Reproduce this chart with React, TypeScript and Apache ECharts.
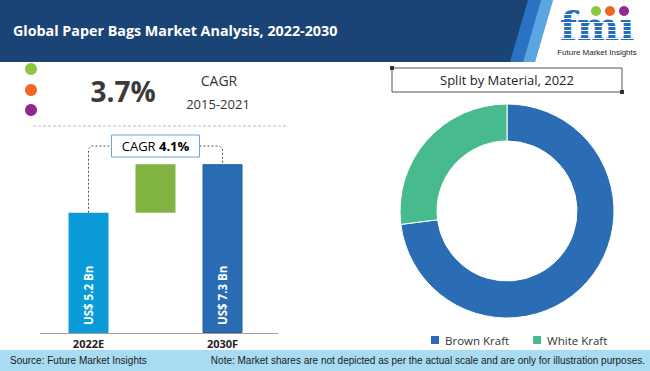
import React, { useEffect, useRef } from "react";
import * as echarts from "echarts";

const title = "Global Paper Bags Market Analysis, 2022-2030";
const barCategories = ["2022E", "", "2030F"];
const barValues = [5.2, 2.1, 7.3];
const barBase = ["-", 5.2, "-"];
const barLabels = ["US$ 5.2 Bn", "", "US$ 7.3 Bn"];
const cagrHistoric = "3.7%";
const cagrHistoricPeriod = "2015-2021";
const cagrForecast = "4.1%";
const pieTitle = "Split by Material, 2022";
const pieNames = ["Brown Kraft", "White Kraft"];
const pieValues = [73, 27];
const sourceText = "Source: Future Market Insights";
const noteText = "Note: Market shares are not depicted as per the actual scale and are only for illustration purposes.";

const FONT = "'Open Sans', 'Noto Sans', sans-serif";
const NARROW = "'Liberation Sans Narrow', 'Liberation Sans', sans-serif";

export default function App() {
  const ref = useRef<HTMLDivElement>(null);
  useEffect(() => {
    document.body.style.margin = "0";
    if (!ref.current) return;
    const chart = echarts.init(ref.current, undefined, { renderer: "svg" });

    const stripes: any[] = [];
    for (let i = 0; i < 8; i++) {
      stripes.push({
        id: "stripe" + i,
        type: "rect",
        shape: { x: 556, y: 14 + i * 4, width: 84, height: 1 },
        style: { fill: "#ffffff" },
        z: 12,
      });
    }

    const baseGraphics: any[] = [
      { id: "hdr", type: "rect", shape: { x: 0, y: 0, width: 650, height: 62 }, style: { fill: "#1b4476" }, z: 1 },
      { id: "hs1", type: "polygon", shape: { points: [[528, 0], [541, 0], [523, 62], [510, 62]] }, style: { fill: "#2a73c2" }, z: 2 },
      { id: "hs2", type: "polygon", shape: { points: [[541, 0], [553, 0], [535, 62], [523, 62]] }, style: { fill: "#5aa6e2" }, z: 2 },
      { id: "hw", type: "polygon", shape: { points: [[553, 0], [650, 0], [650, 62], [535, 62]] }, style: { fill: "#ffffff" }, z: 3 },
      { id: "ttl", type: "text", x: 13, y: 30, style: { text: title, fill: "#ffffff", font: `bold 14.3px ${FONT}`, verticalAlign: "middle" }, z: 5 },
      { id: "logo", type: "text", x: 597, y: 25, style: { text: "fmı", fill: "#1f6fbd", font: `bold 40px 'DejaVu Serif', 'Liberation Serif', serif`, align: "center", verticalAlign: "middle" }, z: 10 },
      ...stripes,
      { id: "lc1", type: "circle", shape: { cx: 596, cy: 11, r: 5 }, style: { fill: "#8dc63f" }, z: 13 },
      { id: "lc2", type: "circle", shape: { cx: 610, cy: 11, r: 5 }, style: { fill: "#f26522" }, z: 13 },
      { id: "lc3", type: "circle", shape: { cx: 624, cy: 11, r: 5 }, style: { fill: "#92278f" }, z: 13 },
      { id: "logot", type: "text", x: 597, y: 52, style: { text: "Future Market Insights", fill: "#222222", font: `8px ${NARROW}`, align: "center", verticalAlign: "middle" }, z: 13 },

      { id: "d1", type: "circle", shape: { cx: 31, cy: 69, r: 6 }, style: { fill: "#8dc63f" } },
      { id: "d2", type: "circle", shape: { cx: 31, cy: 90, r: 6 }, style: { fill: "#f26522" } },
      { id: "d3", type: "circle", shape: { cx: 31, cy: 110, r: 6 }, style: { fill: "#92278f" } },
      { id: "big", type: "text", x: 123, y: 91, style: { text: cagrHistoric, fill: "#3a3a3a", font: `bold 28px ${FONT}`, align: "center", verticalAlign: "middle" } },
      { id: "cg", type: "text", x: 219, y: 80, style: { text: "CAGR", fill: "#333333", font: `14px ${FONT}`, align: "center", verticalAlign: "middle" } },
      { id: "cgp", type: "text", x: 218, y: 104, style: { text: cagrHistoricPeriod, fill: "#333333", font: `13px ${FONT}`, align: "center", verticalAlign: "middle" } },
      { id: "sep", type: "line", shape: { x1: 33, y1: 126, x2: 286, y2: 126 }, style: { stroke: "#bdbdbd", lineWidth: 1, lineDash: [3, 2] } },
      { id: "axl", type: "line", shape: { x1: 40, y1: 333.5, x2: 278, y2: 333.5 }, style: { stroke: "#a0a0a0", lineWidth: 1.2 }, z: 5 },

      { id: "pbox", type: "rect", shape: { x: 392, y: 68, width: 230, height: 24 }, style: { fill: "#ffffff", stroke: "#555555", lineWidth: 1 } },
      { id: "pb1", type: "rect", shape: { x: 390, y: 66, width: 4, height: 4 }, style: { fill: "#333333" } },
      { id: "pb2", type: "rect", shape: { x: 620, y: 90, width: 4, height: 4 }, style: { fill: "#333333" } },
      { id: "pt", type: "text", x: 507, y: 80, style: { text: pieTitle, fill: "#222222", font: `13px ${FONT}`, align: "center", verticalAlign: "middle" } },

      { id: "ftr", type: "rect", shape: { x: 0, y: 350, width: 650, height: 21 }, style: { fill: "#a8dcf2" } },
      { id: "src", type: "text", x: 10, y: 360.5, style: { text: sourceText, fill: "#1a1a1a", font: `10px ${NARROW}`, verticalAlign: "middle" } },
      { id: "note", type: "text", x: 645, y: 360.5, style: { text: noteText, fill: "#1a1a1a", font: `10px ${NARROW}`, align: "right", verticalAlign: "middle" } },
    ];

    const barColors = ["#0b9bd8", "#80b342", "#2a6cb4"];

    const option: any = {
      animation: false,
      grid: { left: 55, width: 201, top: 148, height: 185 },
      xAxis: {
        type: "category",
        data: barCategories,
        axisLine: { show: false },
        axisTick: { show: false },
        axisLabel: { margin: 5, color: "#222222", fontWeight: "bold", fontSize: 11, fontFamily: FONT },
      },
      yAxis: { type: "value", min: 0, max: 8, show: false, splitLine: { show: false } },
      legend: {
        data: pieNames,
        left: 424,
        top: 329,
        icon: "rect",
        itemWidth: 10,
        itemHeight: 10,
        itemGap: 22,
        textStyle: { color: "#333333", fontSize: 11.5, fontFamily: FONT },
      },
      series: [
        {
          type: "bar",
          stack: "w",
          barWidth: 40,
          data: barBase,
          itemStyle: { color: "transparent" },
          silent: true,
        },
        {
          type: "bar",
          stack: "w",
          barWidth: 40,
          data: barValues.map((v, i) => ({
            value: v,
            itemStyle: { color: barColors[i], borderColor: i === 2 ? "#1f5c9e" : barColors[i], borderWidth: i === 2 ? 1 : 0 },
          })),
          label: {
            show: true,
            position: "insideBottom",
            rotate: 90,
            align: "left",
            verticalAlign: "middle",
            distance: 8,
            color: "#ffffff",
            fontWeight: "bold",
            fontSize: 11.5,
            fontFamily: FONT,
            formatter: (p: any) => barLabels[p.dataIndex],
          },
        },
        {
          type: "pie",
          center: [507, 211],
          radius: [70, 107],
          startAngle: 90,
          label: { show: false },
          labelLine: { show: false },
          itemStyle: { borderColor: "#ffffff", borderWidth: 1 },
          data: pieNames.map((n, i) => ({ name: n, value: pieValues[i], itemStyle: { color: i === 0 ? "#2a6db5" : "#47bb8e" } })),
        },
      ],
      graphic: { elements: baseGraphics },
    };
    chart.setOption(option);

    const p0 = chart.convertToPixel({ gridIndex: 0 }, [0, barValues[0]]) as number[];
    const p2 = chart.convertToPixel({ gridIndex: 0 }, [2, barValues[2]]) as number[];
    const topY = 146;
    const midX = (p0[0] + p2[0]) / 2;
    const conn: any[] = [
      {
        id: "conn",
        type: "polyline",
        shape: { points: [[p0[0], p0[1]], [p0[0], topY + 3], [p0[0] + 3, topY], [p2[0] - 3, topY], [p2[0], topY + 3], [p2[0], p2[1]]] },
        style: { stroke: "#555555", lineWidth: 1, lineDash: [2, 2], fill: null },
        z: 6,
      },
      { id: "cbox", type: "rect", shape: { x: midX - 44, y: topY - 11, width: 88, height: 22 }, style: { fill: "#ffffff", stroke: "#6ea6da", lineWidth: 1 }, z: 7 },
      {
        id: "ctext",
        type: "text",
        x: midX,
        y: topY,
        style: {
          text: "{a|CAGR }{b|" + cagrForecast + "}",
          align: "center",
          verticalAlign: "middle",
          rich: {
            a: { fontSize: 13, color: "#333333", fontFamily: FONT },
            b: { fontSize: 13, color: "#333333", fontWeight: "bold", fontFamily: FONT },
          },
        },
        z: 8,
      },
    ];
    chart.setOption({ graphic: { elements: [...baseGraphics, ...conn] } });

    return () => chart.dispose();
  }, []);
  return <div ref={ref} style={{ width: 650, height: 371 }} />;
}
